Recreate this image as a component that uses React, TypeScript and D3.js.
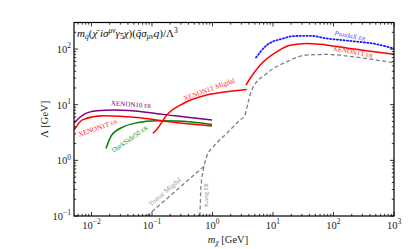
import React from 'react';
import * as d3 from 'd3';

const W = 415;
const H = 249;
const PL = 74, PR = 394, PT = 22.5, PB = 216;

const xDomain = [0.00514, 1000];
const yDomain = [0.1, 300];
const xMajor = [-2, -1, 0, 1, 2, 3];
const yMajor = [-1, 0, 1, 2];

// XENON10 ER (purple)
const xenon10M = [0.00514, 0.0072, 0.0123, 0.0244, 0.0927, 0.24, 0.42, 0.98];
const xenon10L = [4.68, 6.5, 7.76, 8.0, 7.2, 6.3, 5.9, 5.3];
// XENON1T ER low mass (red)
const x1tErLowM = [0.00514, 0.0072, 0.0155, 0.0565, 0.198, 0.98];
const x1tErLowL = [3.5, 5.4, 6.3, 5.9, 4.93, 4.13];
// DarkSide50 ER (green)
const ds50M = [0.0174, 0.0216, 0.0336, 0.0559, 0.12, 0.256, 0.98];
const ds50L = [1.64, 2.85, 4.0, 4.73, 5.14, 5.08, 4.4];
// XENON1T Migdal (red)
const x1tMigM = [0.103, 0.12, 0.175, 0.329, 0.8, 1.72, 3.67];
const x1tMigL = [3.06, 3.6, 6.5, 10.5, 14.9, 17.1, 18.8];
// XENON1T ER high mass (red)
const x1tErHiM = [3.58, 4.17, 6.1, 11.5, 19.1, 36, 59.8, 187, 1000];
const x1tErHiL = [22.5, 29.6, 51.4, 89, 117, 126, 122, 102, 81];
// PandaX ER (blue dotted)
const pandaM = [5.24, 7.87, 14.8, 21.7, 40.9, 77.3, 187, 518, 1000];
const pandaL = [70.6, 117, 155, 171, 173, 155, 140, 122, 102];
// Kang ER (gray dashed)
const kangM = [0.62, 0.645, 0.705, 0.8, 1.03, 1.72, 2.85, 3.38, 3.86, 4.45, 7.87, 16.8, 36, 77.3, 212, 1000];
const kangL = [0.1, 0.336, 0.67, 1.16, 1.75, 3.05, 5.3, 6.24, 10.7, 18.3, 36.5, 59, 78, 80, 72.5, 56.5];
// Tomar Migdal (gray dashed)
const tomarM = [0.0826, 0.74];
const tomarL = [0.1, 0.8];

const labels = [
  { main: 'XENON10 ', small: 'ER', m: 0.045, l: 10.0, rot: 4, color: '#800080' },
  { main: 'XENON1T ', small: 'ER', m: 0.0128, l: 3.8, rot: -19, color: '#ff2020' },
  { main: 'DarkSide50 ', small: 'ER', m: 0.0432, l: 2.41, rot: -35, color: '#1a9a1a' },
  { main: 'XENON1T Migdal', small: '', m: 0.88, l: 18.7, rot: -20, color: '#ff3030' },
  { main: 'PandaX ', small: 'ER', m: 187, l: 171, rot: 10, color: '#5555ff', italic: true },
  { main: 'XENON1T ', small: 'ER', m: 210, l: 88, rot: 11, color: '#ff3030' },
  { main: 'Tomar Migdal', small: '', m: 0.164, l: 0.27, rot: -40, color: '#999999' },
  { main: 'Kang ', small: 'ER', m: 0.796, l: 0.238, rot: -90, color: '#999999' },
];

const font = '"Liberation Serif", "DejaVu Serif", serif';

export default function App() {
  const x = d3.scaleLog().domain(xDomain).range([PL, PR]);
  const y = d3.scaleLog().domain(yDomain).range([PB, PT]);
  const mk = (ms: number[], ls: number[], curve = d3.curveMonotoneX) =>
    d3.line<number>().x((_, i) => x(ms[i])).y((_, i) => y(ls[i])).curve(curve)(ms.map((m) => m)) || '';

  const xMinor: number[] = [];
  for (let e = -3; e <= 3; e++) for (let k = 2; k <= 9; k++) {
    const v = k * Math.pow(10, e);
    if (v > xDomain[0] && v < xDomain[1]) xMinor.push(v);
  }
  const yMinor: number[] = [];
  for (let e = -1; e <= 2; e++) for (let k = 2; k <= 9; k++) {
    const v = k * Math.pow(10, e);
    if (v > yDomain[0] && v < yDomain[1]) yMinor.push(v);
  }

  return (
    <svg width={W} height={H} style={{ position: 'absolute', left: 0, top: 0, background: '#fff' }} fontFamily={font}>
      <defs>
        <clipPath id="plotclip">
          <rect x={PL} y={PT} width={PR - PL} height={PB - PT} />
        </clipPath>
      </defs>
      <g clipPath="url(#plotclip)" fill="none" strokeLinejoin="round">
        <path d={mk(kangM, kangL)} stroke="#808080" strokeWidth={1.3} strokeDasharray="4,2.5" />
        <path d={mk(tomarM, tomarL, d3.curveLinear)} stroke="#808080" strokeWidth={1.3} strokeDasharray="4,2.5" />
        <path d={mk(xenon10M, xenon10L)} stroke="#800080" strokeWidth={1.5} />
        <path d={mk(ds50M, ds50L)} stroke="#008000" strokeWidth={1.5} />
        <path d={mk(x1tErLowM, x1tErLowL)} stroke="#ff0000" strokeWidth={1.5} />
        <path d={mk(x1tMigM, x1tMigL)} stroke="#ff0000" strokeWidth={1.5} />
        <path d={mk(x1tErHiM, x1tErHiL)} stroke="#ff0000" strokeWidth={1.5} />
        <path d={mk(pandaM, pandaL)} stroke="#1a1aff" strokeWidth={1.8} strokeDasharray="1.2,2.2" strokeLinecap="round" />
      </g>
      {labels.map((lb, i) => (
        <text key={i} transform={`translate(${x(lb.m)},${y(lb.l)}) rotate(${lb.rot})`} textAnchor="middle"
          dominantBaseline="central" fontSize={7} fill={lb.color} fontStyle={lb.italic ? 'italic' : 'normal'}>
          {lb.main}
          {lb.small && <tspan fontSize={5.5}>{lb.small}</tspan>}
        </text>
      ))}
      {/* ticks */}
      <g stroke="#000" strokeWidth={0.8}>
        {xMajor.map((e) => {
          const px = x(Math.pow(10, e));
          return (
            <g key={'xm' + e}>
              <line x1={px} x2={px} y1={PB} y2={PB - 4} />
              <line x1={px} x2={px} y1={PT} y2={PT + 4} />
            </g>
          );
        })}
        {xMinor.map((v, i) => (
          <g key={'xn' + i}>
            <line x1={x(v)} x2={x(v)} y1={PB} y2={PB - 2.2} />
            <line x1={x(v)} x2={x(v)} y1={PT} y2={PT + 2.2} />
          </g>
        ))}
        {yMajor.map((e) => {
          const py = y(Math.pow(10, e));
          return (
            <g key={'ym' + e}>
              <line x1={PL} x2={PL + 4} y1={py} y2={py} />
              <line x1={PR} x2={PR - 4} y1={py} y2={py} />
            </g>
          );
        })}
        {yMinor.map((v, i) => (
          <g key={'yn' + i}>
            <line x1={PL} x2={PL + 2.2} y1={y(v)} y2={y(v)} />
            <line x1={PR} x2={PR - 2.2} y1={y(v)} y2={y(v)} />
          </g>
        ))}
      </g>
      <rect x={PL} y={PT} width={PR - PL} height={PB - PT} fill="none" stroke="#000" strokeWidth={1.2} />
      {/* tick labels */}
      {xMajor.map((e) => (
        <text key={'xl' + e} x={x(Math.pow(10, e))} y={228.5} textAnchor="middle" fontSize={10.5} fill="#222">
          10<tspan dy={-4.5} fontSize={7.5}>{e < 0 ? '\u2212' + Math.abs(e) : e}</tspan>
        </text>
      ))}
      {yMajor.map((e) => (
        <text key={'yl' + e} x={PL - 3} y={y(Math.pow(10, e)) + 3.8} textAnchor="end" fontSize={10.5} fill="#222">
          10<tspan dy={-4.5} fontSize={7.5}>{e < 0 ? '\u2212' + Math.abs(e) : e}</tspan>
        </text>
      ))}
      {/* axis labels */}
      <text x={228} y={243} textAnchor="middle" fontSize={10.5} fill="#222">
        <tspan fontStyle="italic">m</tspan>
        <tspan fontStyle="italic" fontSize={7.5} dy={2}>χ</tspan>
        <tspan dy={-2}> [GeV]</tspan>
      </text>
      <text transform={`translate(48,${(PT + PB) / 2}) rotate(-90)`} textAnchor="middle" fontSize={10.5} fill="#222">
        Λ [GeV]
      </text>
      {/* title */}
      <text x={77} y={37} fontSize={11} fill="#111">
        <tspan fontStyle="italic">m</tspan>
        <tspan fontStyle="italic" fontSize={7.5} dy={2}>q</tspan>
        <tspan dy={-2}>(</tspan>
        <tspan fontStyle="italic">χ̄ i</tspan>
        <tspan fontStyle="italic">σ</tspan>
        <tspan fontStyle="italic" fontSize={7.5} dy={-4}>μν</tspan>
        <tspan fontStyle="italic" dy={4}>γ</tspan>
        <tspan fontSize={7.5} dy={2}>5</tspan>
        <tspan fontStyle="italic" dy={-2}>χ</tspan>
        <tspan>)(</tspan>
        <tspan fontStyle="italic">q̄σ</tspan>
        <tspan fontStyle="italic" fontSize={7.5} dy={2}>μν</tspan>
        <tspan fontStyle="italic" dy={-2}>q</tspan>
        <tspan>)/Λ</tspan>
        <tspan fontSize={7.5} dy={-4}>3</tspan>
      </text>
    </svg>
  );
}
